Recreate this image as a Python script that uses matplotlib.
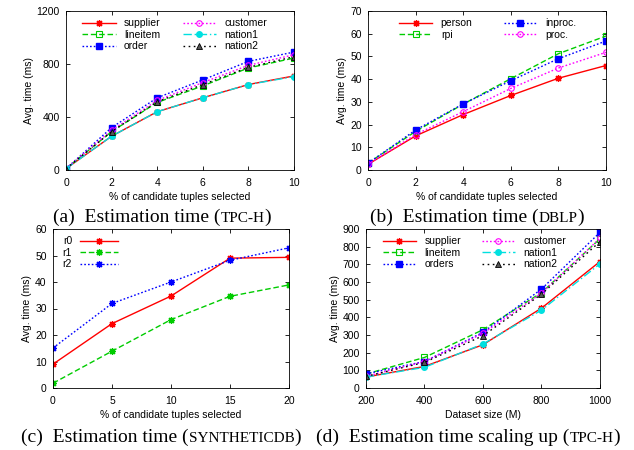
import matplotlib
matplotlib.use("Agg")
import matplotlib.pyplot as plt

plt.rcParams['font.family'] = ['Liberation Sans', 'DejaVu Sans']

# (a) estimation time, TPC-H
pct_a = [0, 2, 4, 6, 8, 10]
supplier_a = [10, 255, 440, 545, 645, 710]
lineitem_a = [10, 290, 510, 635, 770, 845]
order_a = [10, 320, 545, 680, 820, 890]
customer_a = [10, 300, 525, 660, 790, 870]
nation1_a = [10, 255, 440, 545, 645, 705]
nation2_a = [10, 290, 515, 645, 775, 855]

# (b) estimation time, DBLP
pct_b = [0, 2, 4, 6, 8, 10]
person_b = [2.5, 15, 24.4, 32.8, 40.4, 46]
rpi_b = [3, 17, 29, 40.2, 51.2, 59]
inproc_b = [3, 17.6, 29.1, 39.3, 49, 56.8]
proc_b = [2.5, 15.6, 25.7, 35.9, 44.9, 51.8]

# (c) estimation time, SYNTHETICDB
pct_c = [0, 5, 10, 15, 20]
r0_c = [9, 24.3, 34.7, 49, 49.3]
r1_c = [1.8, 13.9, 25.8, 34.6, 38.9]
r2_c = [15.1, 31.9, 40, 48.2, 52.9]

# (d) scaling up, TPC-H
size_d = [200, 400, 600, 800, 1000]
supplier_d = [62, 122, 245, 452, 716]
lineitem_d = [79, 173, 330, 540, 845]
orders_d = [80, 150, 315, 560, 881]
customer_d = [66, 150, 309, 537, 848]
nation1_d = [62, 117, 249, 441, 703]
nation2_d = [66, 145, 296, 531, 829]

W, H = 634, 450
fig = plt.figure(figsize=(W / 100, H / 100), dpi=100)

FS = 7.5
AST = (8, 2, 0)  # gnuplot style asterisk


def make_ax(l, r, t, b):
    ax = fig.add_axes([l / W, 1 - b / H, (r - l) / W, (b - t) / H])
    ax.tick_params(direction='in', top=True, right=True, length=3,
                   labelsize=FS, width=0.6)
    ax.tick_params(axis='x', pad=5.5)
    ax.tick_params(axis='y', pad=4.5)
    for s in ax.spines.values():
        s.set_linewidth(0.6)
    return ax


def caption(x, y, pre, sc, post):
    t1 = fig.text(x / W, 1 - y / H, pre, family='Liberation Serif',
                  fontsize=14, ha='left', va='baseline')
    t2 = fig.text(0, 0, sc, family='Liberation Serif', fontsize=11,
                  ha='left', va='baseline')
    t3 = fig.text(0, 0, post, family='Liberation Serif', fontsize=14,
                  ha='left', va='baseline')
    r = fig.canvas.get_renderer()
    w1 = t1.get_window_extent(r).width
    w2 = t2.get_window_extent(r).width
    t2.set_position((x / W + w1 / W, 1 - y / H))
    t3.set_position((x / W + (w1 + w2) / W, 1 - y / H))


tpch_styles = [
    dict(color='#ff0000', ls='-', marker=AST, ms=5, mew=0.9),
    dict(color='#00cc00', ls=(0, (4, 2)), marker='s', ms=4, mfc='none', mew=0.8),
    dict(color='#0000ff', ls=(0, (1.2, 1.5)), marker='s', ms=4.5),
    dict(color='#ff00ff', ls=(0, (1.2, 1.5)), marker='o', ms=4, mfc='none', mew=0.8),
    dict(color='#00e0e0', ls=(0, (6, 2, 1, 2)), marker='o', ms=4),
    dict(color='#000000', ls=(0, (1.2, 2.5)), marker='^', ms=4, mfc='#555555', mew=0.6),
]

# ---- (a)
ax = make_ax(66, 294, 11, 170)
names_a = ['supplier', 'lineitem', 'order', 'customer', 'nation1', 'nation2']
for name, ys, st in zip(names_a, [supplier_a, lineitem_a, order_a, customer_a, nation1_a, nation2_a], tpch_styles):
    ax.plot(pct_a, ys, label=name, lw=1.0, **st)
ax.set_xlim(0, 10)
ax.set_ylim(0, 1200)
ax.set_xticks(pct_a)
ax.set_yticks([0, 400, 800, 1200])
ax.set_xlabel('% of candidate tuples selected', fontsize=FS, labelpad=3)
ax.set_ylabel('Avg. time (ms)', fontsize=FS, labelpad=2)
ax.legend(ncol=2, loc='upper left', bbox_to_anchor=(0.04, 1.0), frameon=False,
          fontsize=FS, handlelength=3.2, labelspacing=0.15, columnspacing=2.1,
          handletextpad=0.8, borderaxespad=0.3)

# ---- (b)
ax = make_ax(368, 606, 11, 170)
names_b = ['person', 'rpi', 'inproc.', 'proc.']
styles_b = [tpch_styles[0], tpch_styles[1], tpch_styles[2], tpch_styles[3]]
for name, ys, st in zip(names_b, [person_b, rpi_b, inproc_b, proc_b], styles_b):
    ax.plot(pct_b, ys, label=name, lw=1.0, **st)
ax.set_xlim(0, 10)
ax.set_ylim(0, 70)
ax.set_xticks(pct_b)
ax.set_yticks(range(0, 71, 10))
ax.set_xlabel('% of candidate tuples selected', fontsize=FS, labelpad=3)
ax.set_ylabel('Avg. time (ms)', fontsize=FS, labelpad=2)
ax.legend(ncol=2, loc='upper left', bbox_to_anchor=(0.1, 1.0), frameon=False,
          fontsize=FS, handlelength=3.2, labelspacing=0.15, columnspacing=3.0,
          handletextpad=0.8, borderaxespad=0.3)

# ---- (c)
ax = make_ax(53, 289, 229, 388)
styles_c = [dict(color='#ff0000', ls='-'),
            dict(color='#00cc00', ls=(0, (4, 2))),
            dict(color='#0000ff', ls=(0, (1.2, 1.5)))]
for name, ys, st in zip(['r0', 'r1', 'r2'], [r0_c, r1_c, r2_c], styles_c):
    ax.plot(pct_c, ys, label=name, lw=1.0, marker=AST, ms=5, mew=0.9, **st)
ax.set_xlim(0, 20)
ax.set_ylim(0, 60)
ax.set_xticks(pct_c)
ax.set_yticks(range(0, 61, 10))
ax.set_xlabel('% of candidate tuples selected', fontsize=FS, labelpad=3)
ax.set_ylabel('Avg. time (ms)', fontsize=FS, labelpad=2)
ax.legend(loc='upper left', bbox_to_anchor=(0.01, 1.0), frameon=False,
          fontsize=FS, handlelength=3.6, labelspacing=0.15, markerfirst=False,
          handletextpad=0.8, borderaxespad=0.3)

# ---- (d)
ax = make_ax(366, 600, 229, 388)
names_d = ['supplier', 'lineitem', 'orders', 'customer', 'nation1', 'nation2']
for name, ys, st in zip(names_d, [supplier_d, lineitem_d, orders_d, customer_d, nation1_d, nation2_d], tpch_styles):
    ax.plot(size_d, ys, label=name, lw=1.0, **st)
ax.set_xlim(200, 1000)
ax.set_ylim(0, 900)
ax.set_xticks(size_d)
ax.set_yticks(range(0, 901, 100))
ax.set_xlabel('Dataset size (M)', fontsize=FS, labelpad=3)
ax.set_ylabel('Avg. time (ms)', fontsize=FS, labelpad=2)
ax.legend(ncol=2, loc='upper left', bbox_to_anchor=(0.04, 1.0), frameon=False,
          fontsize=FS, handlelength=3.2, labelspacing=0.15, columnspacing=2.0,
          handletextpad=0.8, borderaxespad=0.3)

caption(53, 222, '(a)  Estimation time (', 'TPC-H', ')')
caption(370, 222, '(b)  Estimation time (', 'DBLP', ')')
caption(21, 442, '(c)  Estimation time (', 'SYNTHETICDB', ')')
caption(316, 442, '(d)  Estimation time scaling up (', 'TPC-H', ')')

fig.savefig('out.png', dpi=100)
